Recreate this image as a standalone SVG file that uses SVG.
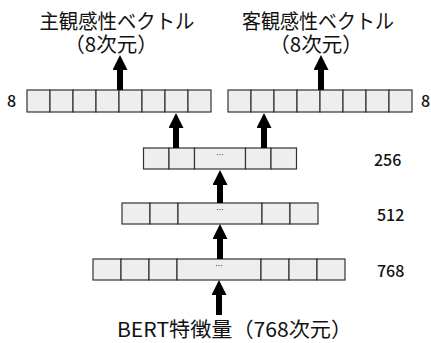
<svg xmlns="http://www.w3.org/2000/svg" width="431" height="343" viewBox="0 0 431 343">
<defs>
<style>
.cell{fill:#eeeeee;stroke:#333333;stroke-width:1.2}
.t{font-family:"Noto Sans CJK JP","Noto Sans",sans-serif;fill:#111111}
.title{font-size:20.5px;text-anchor:middle}
.num{font-size:16px;font-weight:500}
.dots{font-family:"DejaVu Sans",sans-serif;font-size:8px;fill:#333333;text-anchor:middle}
.arr{stroke:#000000;stroke-width:6;fill:none;marker-end:url(#ah)}
</style>
<marker id="ah" viewBox="0 0 15 15" markerWidth="15" markerHeight="15" markerUnits="userSpaceOnUse" refX="0" refY="7.5" orient="auto">
<path d="M0,0 L15,7.5 L0,15 z" fill="#000000"/>
</marker>
</defs>
<rect width="431" height="343" fill="#ffffff"/>

<g id="title-subjective">
<text class="t title" x="117" y="28.5" textLength="155" lengthAdjust="spacingAndGlyphs">主観感性ベクトル</text>
<text class="t title" x="111" y="51.5">（8次元）</text>
</g>
<g id="title-objective">
<text class="t title" x="318" y="28.5" textLength="152" lengthAdjust="spacingAndGlyphs">客観感性ベクトル</text>
<text class="t title" x="316" y="51.5">（8次元）</text>
</g>

<g id="row-8-left">
<rect class="cell" x="27" y="90" width="23" height="22"/>
<rect class="cell" x="50" y="90" width="23" height="22"/>
<rect class="cell" x="73" y="90" width="23" height="22"/>
<rect class="cell" x="96" y="90" width="23" height="22"/>
<rect class="cell" x="119" y="90" width="23" height="22"/>
<rect class="cell" x="142" y="90" width="23" height="22"/>
<rect class="cell" x="165" y="90" width="23" height="22"/>
<rect class="cell" x="188" y="90" width="23" height="22"/>
<text class="t num" x="7" y="106.5">8</text>
</g>
<g id="row-8-right">
<rect class="cell" x="228" y="90" width="23" height="22"/>
<rect class="cell" x="251" y="90" width="23" height="22"/>
<rect class="cell" x="274" y="90" width="23" height="22"/>
<rect class="cell" x="297" y="90" width="23" height="22"/>
<rect class="cell" x="320" y="90" width="23" height="22"/>
<rect class="cell" x="343" y="90" width="23" height="22"/>
<rect class="cell" x="366" y="90" width="23" height="22"/>
<rect class="cell" x="389" y="90" width="23" height="22"/>
<text class="t num" x="421" y="106.5">8</text>
</g>
<g id="row-256">
<rect class="cell" x="143.5" y="148" width="25.5" height="21"/>
<rect class="cell" x="169" y="148" width="25.5" height="21"/>
<rect class="cell" x="194.5" y="148" width="51" height="21"/>
<rect class="cell" x="245.5" y="148" width="25.5" height="21"/>
<rect class="cell" x="271" y="148" width="25.5" height="21"/>
<text class="dots" x="220" y="158">···</text>
<text class="t num" x="374" y="165.5">256</text>
</g>
<g id="row-512">
<rect class="cell" x="122" y="203" width="28" height="21"/>
<rect class="cell" x="150" y="203" width="28" height="21"/>
<rect class="cell" x="178" y="203" width="84" height="21"/>
<rect class="cell" x="262" y="203" width="28" height="21"/>
<rect class="cell" x="290" y="203" width="28" height="21"/>
<text class="dots" x="220" y="213">···</text>
<text class="t num" x="377" y="220.5">512</text>
</g>
<g id="row-768">
<rect class="cell" x="93" y="259" width="28" height="21"/>
<rect class="cell" x="121" y="259" width="28" height="21"/>
<rect class="cell" x="149" y="259" width="28" height="21"/>
<rect class="cell" x="177" y="259" width="84" height="21"/>
<rect class="cell" x="261" y="259" width="28" height="21"/>
<rect class="cell" x="289" y="259" width="28" height="21"/>
<rect class="cell" x="317" y="259" width="28" height="21"/>
<text class="dots" x="219" y="269">···</text>
<text class="t num" x="377" y="276.5">768</text>
</g>
<g id="input-label">
<text class="t" x="117" y="337" style="font-size:20.5px" textLength="235" lengthAdjust="spacingAndGlyphs">BERT特徴量（768次元）</text>
</g>

<g id="connectors">
<line class="arr" x1="120" y1="90" x2="120" y2="70"/>
<line class="arr" x1="321" y1="90" x2="321" y2="70"/>
<line class="arr" x1="176" y1="148" x2="176" y2="128"/>
<line class="arr" x1="264" y1="148" x2="264" y2="128"/>
<line class="arr" x1="220" y1="203" x2="220" y2="185"/>
<line class="arr" x1="220" y1="259" x2="220" y2="239"/>
<line class="arr" x1="219" y1="315" x2="219" y2="295"/>
</g>
</svg>
